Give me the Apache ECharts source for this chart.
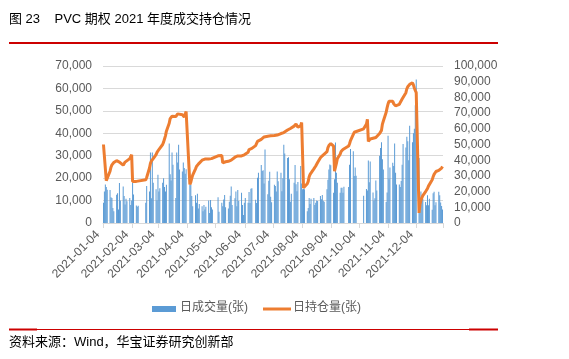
<!DOCTYPE html>
<html><head><meta charset="utf-8">
<script src="https://cdn.jsdelivr.net/npm/echarts/dist/echarts.min.js"></script>
<style>html,body{margin:0;padding:0;background:#fff}#c{width:569px;height:359px}</style>
</head><body><div id="c"></div>
<script>
// ---- data ----
const firstDay = '2021-01-04';
const lastDay = '2021-12-31';
// exchange holidays falling on weekdays (no trading)
const holidays = ['2021-02-11','2021-02-12','2021-02-15','2021-02-16','2021-02-17','2021-04-05',
  '2021-05-03','2021-05-04','2021-05-05','2021-06-14','2021-09-20','2021-09-21',
  '2021-10-01','2021-10-04','2021-10-05','2021-10-06','2021-10-07'];
const tickLabels = ['2021-01-04','2021-02-04','2021-03-04','2021-04-04','2021-05-04','2021-06-04',
  '2021-07-04','2021-08-04','2021-09-04','2021-10-04','2021-11-04','2021-12-04'];
const leftTicks = [0,10000,20000,30000,40000,50000,60000,70000];
const rightTicks = [0,10000,20000,30000,40000,50000,60000,70000,80000,90000,100000];
const seriesNames = ['日成交量(张)','日持仓量(张)'];
// daily volume, one value per trading day
const volume = [
  9000,14000,17200,16000,14800, 14700,11500,11200,6700,5200, 12600,13300,6000,17800,10000, 16300,12000,8300,10800,9700,
  11200,8000,10000,18000,12700, 7800,7300,7700, 9000,16500, 14000,31400,11000,31400,18000,
  15000,10000,21500,14000,15500, 18000,20000,16000,14000,17000, 35500,21700,19000,31400,26000, 11200,31400,27000,34900,23900, 23000,27000,24500,
  22000,24000, 17200,17000,12000,7500, 12400,9000,13000,6500,8500, 7500,5200,8000,6000,7200, 10000,4500,10200,7000,6000,
  11500,5000, 9000,7500,10500,12500,7000, 6500,9500,12200,16300,8000, 11000,14000,7500,14700,9800, 13500,
  8000,3600,9000,11200, 9000,13800,8900,15300,15500, 10400,8900,20200,22400, 25900,23200,23500,17600,32800, 12800,18800,22900,
  11700,9300, 17000,16500,14000,23000,18600, 22400,14200,20000,34900,31000, 29000,29300,19500,9500,13000, 18000,25900,17300,14200,18300,
  25400,17600,15000,15300,15000, 5200,6700,11200,8500,10800, 11200,8000,9000,10000,9800, 12000,10600,12500,9900,9500, 15000,19300,
  23900,26100,25700, 13500,19500,35900,22400,17900, 13500,15700,15700,13500,16200, 16000,26000,33000, 32000,21000,24700,21100,
  12200, 15200,14500,27900,18200,27400, 13600,9900,11000,18900,14500, 30000,33400,36000,28400,23900,
  9400,13600,38900,19500,24700, 26900,25400,35500,22400,17200, 17200,16000,18700,26000,35200, 33700,38500,36500,28000,43400, 36000,40000,
  42000,52500,64000, 29000,6800,14000,12200,10700, 9400,7900,12400,7900,10800, 5900,13300,13900,7900,9300, 13900,12400,9100,7600,6000
];
// daily open interest, one value per trading day
const openInterest = [
  50000,49000,49000,27000,26000, 33000,35500,37000,38000,38500, 39700,39800,39500,38800,38300, 36800,37800,38800,39500,40000,
  41000,41500,43500,26500,26300, 26500,26600,26800, 27500,29000, 35000,38000,39500,40500,41000,
  43500,45000,46000,46800,47500, 50000,51500,53500,55500,58500, 63500,66500,67500,68000,68000, 67800,68000,69500,70000,69300, 69000,67800,67500,
  67300,71000, 24500,26000,28500,30500, 34500,36000,36800,37500,38200, 40000,40300,40500,40700,40800, 40800,40900,40800,41000,41000,
  42800,43000, 43000,38300,38500,38800,39000, 39300,39300,39500,40000,40500, 41900,42000,42300,42700,42700, 42700,
  43300,43600,43400,43600, 45000,46800,47000,47000,47500, 49300,50500,52000,52800, 53300,53800,54300,54800,55000, 55300,55400,55500,
  55500,55600, 55700,55500,55800,56000,56000, 57000,57000,57300,57600,58000, 59200,59500,59800,60200,60500, 61700,62500,63000,63500,61000,
  62000,64000,64700,22400,23500, 25000,26500,29500,31000,32000, 34500,35300,36300,37000,38500, 41500,42000,42800,43400,43700, 45500,48000,
  49300,50200,50600, 49000,33000,32500,38000,41000, 43800,45500,46300,46800,46800, 49000,50500,52500, 56500,57800,58300,58800,
  60000, 63000,66000,52000,52500,53500, 54000,53800,53500,54500,55500, 57000,57300,59000,63000,65000,
  70500,73500,75800,77500,78000, 77500,76000,74800,74600,74700, 75500,76800,77600,79000,80000, 83000,85500,86800,87600,88300, 89300,88000,
  86000,84400,83000, 6400,12000,14500,15500,17500, 20000,21000,22000,23500,24500, 27500,29500,31000,32000,32800, 33500,33500,34500,35000,36000
];

// ---- build calendar-day category axis (date axis like the original) ----
function fmt(d){return d.toISOString().slice(0,10);}
const days = [];
for (let t = Date.parse(firstDay+'T00:00:00Z'); t <= Date.parse(lastDay+'T00:00:00Z'); t += 86400000) days.push(new Date(t));
const categories = days.map(fmt);
const volData = [], oiData = [];
let k = 0;
days.forEach(d => {
  const s = fmt(d), wd = d.getUTCDay();
  if (wd !== 0 && wd !== 6 && holidays.indexOf(s) < 0 && k < volume.length) {
    volData.push(volume[k]); oiData.push(openInterest[k]); k++;
  } else { volData.push(null); oiData.push(null); }
});
const thousands = v => String(v).replace(/\B(?=(\d{3})+(?!\d))/g, ',');
const showTick = (i, v) => tickLabels.indexOf(v) >= 0;
const FONT = '"Liberation Sans", Arial, "Noto Sans CJK SC", sans-serif';
const BLUE = '#5B9BD5', ORANGE = '#ED7D31';

const chart = echarts.init(document.getElementById('c'), null, {renderer:'canvas'});
chart.setOption({
  animation: false,
  backgroundColor: '#ffffff',
  textStyle: {fontFamily: FONT},
  grid: {left: 103, right: 126, top: 66, bottom: 136},
  xAxis: {
    type: 'category', data: categories, boundaryGap: true,
    axisLine: {lineStyle: {color: '#d9d9d9'}},
    axisTick: {show: true, interval: showTick, length: 5, lineStyle: {color: '#d9d9d9'}},
    axisLabel: {interval: showTick, rotate: 45, margin: 4, padding: [0, 8, 0, 0], fontSize: 12, color: '#595959', fontFamily: FONT}
  },
  yAxis: [
    {type: 'value', min: leftTicks[0], max: leftTicks[leftTicks.length-1], interval: 10000,
     axisLine: {show: false}, axisTick: {show: false},
     splitLine: {lineStyle: {color: '#d9d9d9'}},
     axisLabel: {formatter: thousands, fontSize: 12, color: '#595959', margin: 11, fontFamily: FONT}},
    {type: 'value', min: rightTicks[0], max: rightTicks[rightTicks.length-1], interval: 10000,
     axisLine: {show: false}, axisTick: {show: false}, splitLine: {show: false},
     axisLabel: {formatter: thousands, fontSize: 12, color: '#595959', margin: 11, fontFamily: FONT}}
  ],
  series: [
    {name: seriesNames[0], type: 'bar', data: volData, yAxisIndex: 0, barWidth: 1,
     itemStyle: {color: BLUE}},
    {name: seriesNames[1], type: 'line', data: oiData, yAxisIndex: 1, connectNulls: true,
     symbol: 'none', lineStyle: {color: ORANGE, width: 3}, itemStyle: {color: ORANGE}}
  ],
  graphic: [
    {type: 'text', left: 9, top: 13, style: {text: '图 23    PVC 期权 2021 年度成交持仓情况', font: '13px ' + FONT, fill: '#000'}},
    {type: 'rect', shape: {x: 9, y: 42, width: 489, height: 2}, style: {fill: '#cc0000'}},
    // legend
    {type: 'rect', shape: {x: 152, y: 306, width: 24, height: 6}, style: {fill: BLUE}},
    {type: 'text', left: 180, top: 302, style: {text: seriesNames[0], font: '12px ' + FONT, fill: '#595959'}},
    {type: 'rect', shape: {x: 263, y: 307.5, width: 28, height: 3}, style: {fill: ORANGE}},
    {type: 'text', left: 293, top: 302, style: {text: seriesNames[1], font: '12px ' + FONT, fill: '#595959'}},
    // footer
    {type: 'rect', shape: {x: 9, y: 329, width: 489, height: 1}, style: {fill: '#cc0000'}},
    {type: 'rect', shape: {x: 9, y: 328.5, width: 28, height: 2}, style: {fill: '#cc0000'}},
    {type: 'rect', shape: {x: 469, y: 328.5, width: 29, height: 2}, style: {fill: '#cc0000'}},
    {type: 'text', left: 9, top: 336, style: {text: '资料来源：Wind，华宝证券研究创新部', font: '13px ' + FONT, fill: '#000'}}
  ]
});
</script>
</body></html>
